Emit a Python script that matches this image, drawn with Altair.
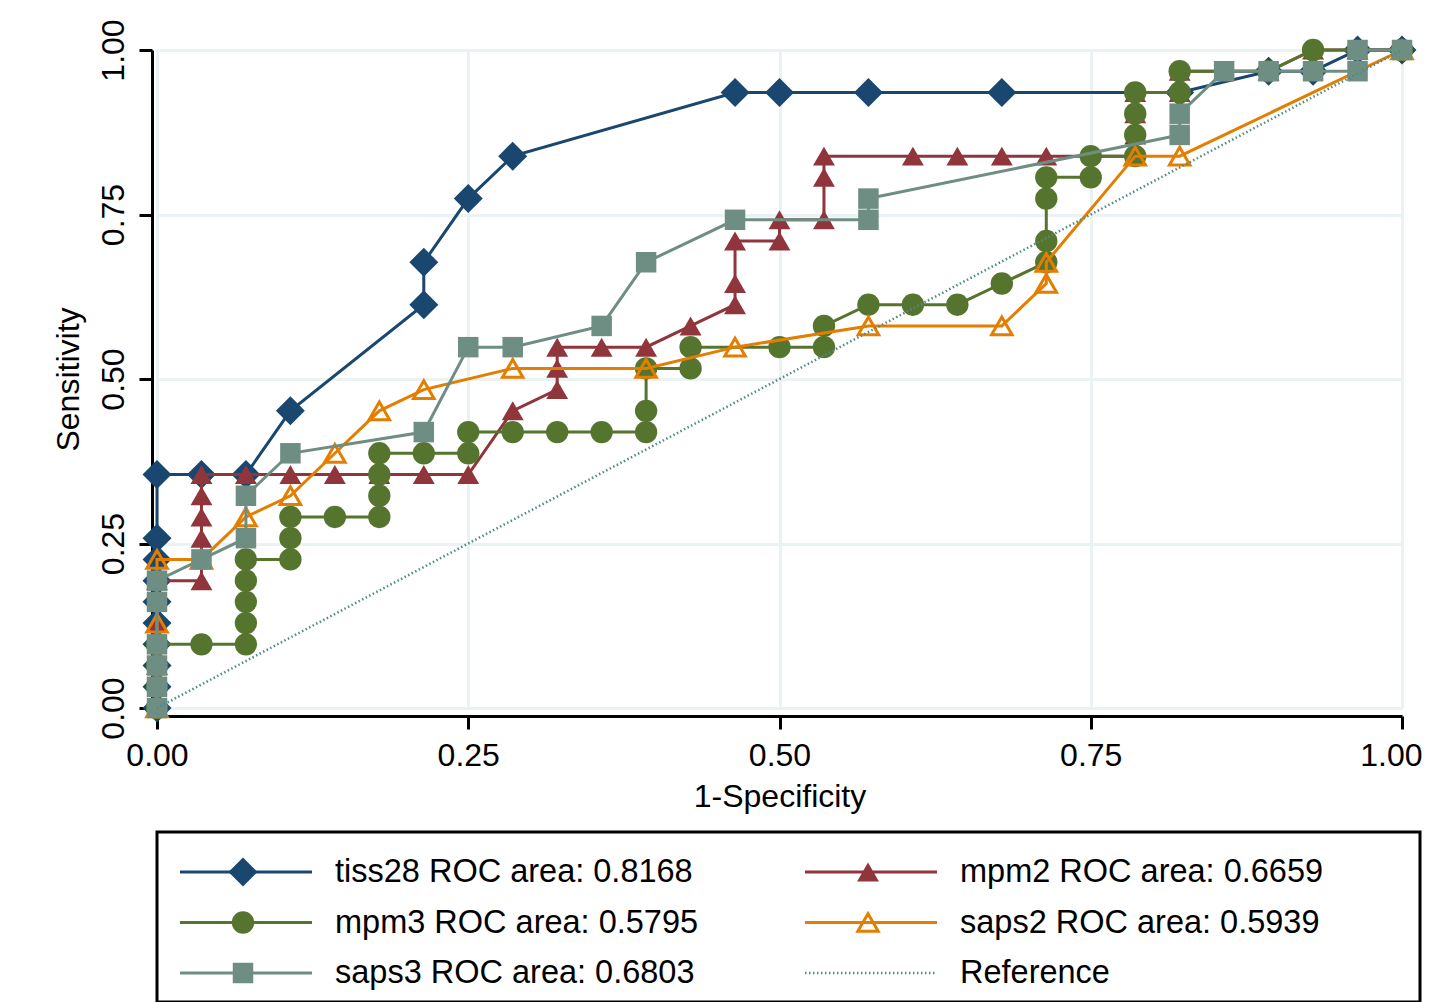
import altair as alt
import pandas as pd

FONT = "Liberation Sans"
FS = 32
LEG_FS = 32.5

# ROC steps: 28 controls (1-specificity) and 31 cases (sensitivity)
N_NEG = 28
N_POS = 31

series_keys = ["tiss28", "mpm2", "mpm3", "saps2", "saps3"]
legend_labels = [
    "tiss28 ROC area: 0.8168",
    "mpm2 ROC area: 0.6659",
    "mpm3 ROC area: 0.5795",
    "saps2 ROC area: 0.5939",
    "saps3 ROC area: 0.6803",
    "Reference",
]

tiss28_fp = [0, 0, 0, 0, 0, 0, 0, 0, 0, 0, 1, 2, 3, 6, 6, 7, 8, 13, 14, 16, 19, 23, 25, 26, 27, 28]
tiss28_tp = [0, 1, 2, 3, 4, 5, 6, 7, 8, 11, 11, 11, 14, 19, 21, 24, 26, 29, 29, 29, 29, 29, 30, 30, 31, 31]

mpm2_fp = [0, 0, 0, 0, 1, 1, 1, 1, 1, 1, 2, 3, 4, 5, 6, 7, 8, 9, 9, 9, 10, 11, 12, 13, 13, 13, 14, 14,
           15, 15, 15, 17, 18, 19, 20, 22, 22, 22, 22, 23, 23, 24, 25, 26, 27, 28]
mpm2_tp = [0, 2, 4, 6, 6, 7, 8, 9, 10, 11, 11, 11, 11, 11, 11, 11, 14, 15, 16, 17, 17, 17, 18, 19, 20, 22, 22, 23,
           23, 25, 26, 26, 26, 26, 26, 26, 27, 28, 29, 29, 30, 30, 30, 31, 31, 31]

mpm3_fp = [0, 0, 0, 0, 1, 2, 2, 2, 2, 2, 3, 3, 3, 4, 5, 5, 5, 5, 6, 7, 7, 8, 9, 10, 11, 11, 11, 12, 12, 14,
           15, 15, 16, 17, 18, 19, 20, 20, 20, 20, 21, 21, 22, 22, 22, 22, 23, 23, 25, 26, 28]
mpm3_tp = [0, 1, 2, 3, 3, 3, 4, 5, 6, 7, 7, 8, 9, 9, 9, 10, 11, 12, 12, 12, 13, 13, 13, 13, 13, 14, 16, 16, 17, 17,
           17, 18, 19, 19, 19, 20, 21, 22, 24, 25, 25, 26, 26, 27, 28, 29, 29, 30, 30, 31, 31]

saps2_fp = [0, 0, 0, 1, 2, 3, 4, 5, 6, 8, 11, 13, 16, 19, 20, 20, 22, 23, 28]
saps2_tp = [0, 4, 7, 7, 9, 10, 12, 14, 15, 16, 16, 17, 18, 18, 20, 21, 26, 26, 31]

saps3_fp = [0, 0, 0, 0, 0, 0, 1, 2, 2, 3, 6, 7, 8, 10, 11, 13, 16, 16, 23, 23, 24, 25, 26, 27, 27, 28]
saps3_tp = [0, 1, 2, 3, 5, 6, 7, 8, 10, 12, 13, 17, 17, 18, 21, 23, 23, 24, 27, 28, 30, 30, 30, 30, 31, 31]

ref_x = [0.0, 1.0]
ref_y = [0.0, 1.0]

colors = {"tiss28": "#1a476f", "mpm2": "#90353b", "mpm3": "#55752f",
          "saps2": "#e37e00", "saps3": "#6e8e84", "Reference": "#4f8a86"}
shapes = {"tiss28": "diamond", "mpm2": "triangle-up", "mpm3": "circle",
          "saps2": "triangle-up", "saps3": "square"}
sizes = {"tiss28": 841, "mpm2": 480, "mpm3": 500, "saps2": 420, "saps3": 420}
filled = {"tiss28": True, "mpm2": True, "mpm3": True, "saps2": False, "saps3": True}

fp_lists = {"tiss28": tiss28_fp, "mpm2": mpm2_fp, "mpm3": mpm3_fp, "saps2": saps2_fp, "saps3": saps3_fp}
tp_lists = {"tiss28": tiss28_tp, "mpm2": mpm2_tp, "mpm3": mpm3_tp, "saps2": saps2_tp, "saps3": saps3_tp}

PLOT_W = 1245
PLOT_H = 658

ticks = [0, 0.25, 0.5, 0.75, 1.0]

# keep the last x label inside the window
last_align = {"condition": {"test": "datum.value == 1", "value": "right"}, "value": "center"}
last_offset = {"condition": {"test": "datum.value == 1", "value": 20}, "value": 0}


def x_enc():
    return alt.X("x:Q", scale=alt.Scale(domain=[0, 1], nice=False, zero=False),
                 axis=alt.Axis(values=ticks, format=".2f", title="1-Specificity", offset=8,
                               labelPadding=11, titlePadding=10, labelFlush=False,
                               labelAlign=last_align, labelOffset=last_offset))


def y_enc():
    return alt.Y("y:Q", scale=alt.Scale(domain=[0, 1], nice=False, zero=False),
                 axis=alt.Axis(values=ticks, format=".2f", title="Sensitivity", offset=5,
                               labelAngle=270, labelAlign="center", labelBaseline="bottom",
                               labelPadding=9, titlePadding=12, labelFlush=False))


layers = []
for k in series_keys:
    df = pd.DataFrame({"x": [v / N_NEG for v in fp_lists[k]],
                       "y": [v / N_POS for v in tp_lists[k]],
                       "i": list(range(len(fp_lists[k])))})
    base = alt.Chart(df)
    line = base.mark_line(color=colors[k], strokeWidth=3).encode(x=x_enc(), y=y_enc(), order="i:Q")
    if filled[k]:
        pts = base.mark_point(shape=shapes[k], filled=True, size=sizes[k], color=colors[k], opacity=1)
    else:
        pts = base.mark_point(shape=shapes[k], filled=False, size=sizes[k], color=colors[k],
                              strokeWidth=3, opacity=1)
    pts = pts.encode(x=x_enc(), y=y_enc())
    layers += [line, pts]

ref_df = pd.DataFrame({"x": ref_x, "y": ref_y})
ref = alt.Chart(ref_df).mark_line(color=colors["Reference"], strokeWidth=2.5,
                                  strokeDash=[1.5, 2.5]).encode(x=x_enc(), y=y_enc())
layers.append(ref)

main = alt.layer(*layers).properties(width=PLOT_W, height=PLOT_H)

# ---- legend (two columns, three rows) ----
LEG_W = 1263
LEG_H = 170
COL_STEP = 625
ROW_STEP = 50.5
ROW0 = 40

leg_keys = ["tiss28", "mpm2", "mpm3", "saps2", "saps3", "Reference"]
leg_df = pd.DataFrame({"key": leg_keys, "label": legend_labels,
                       "col": [0, 1, 0, 1, 0, 1], "row": [0, 0, 1, 1, 2, 2]})

lx = alt.X("col:Q", scale=alt.Scale(domain=[0, LEG_W / COL_STEP], nice=False, zero=False), axis=None)
ly = alt.Y("row:Q", scale=alt.Scale(domain=[(LEG_H - ROW0) / ROW_STEP, -ROW0 / ROW_STEP], nice=False, zero=False),
           axis=None)
ckeys = list(colors.keys())
color_scale = alt.Scale(domain=ckeys, range=[colors[c] for c in ckeys])
lbase = alt.Chart(leg_df)

leg_layers = []
leg_layers.append(lbase.transform_filter(alt.datum.key != "Reference").mark_rule(
    strokeWidth=3, xOffset=23, x2Offset=155).encode(
    x=lx, x2="col:Q", y=ly, color=alt.Color("key:N", scale=color_scale, legend=None)))
leg_layers.append(lbase.transform_filter(alt.datum.key == "Reference").mark_rule(
    strokeWidth=2.5, strokeDash=[1.5, 2.5], xOffset=23, x2Offset=155).encode(
    x=lx, x2="col:Q", y=ly, color=alt.Color("key:N", scale=color_scale, legend=None)))
for k in series_keys:
    m = lbase.transform_filter(alt.datum.key == k)
    if filled[k]:
        mk = m.mark_point(shape=shapes[k], filled=True, size=sizes[k], xOffset=86, opacity=1)
    else:
        mk = m.mark_point(shape=shapes[k], filled=False, size=sizes[k], xOffset=86, strokeWidth=3, opacity=1)
    leg_layers.append(mk.encode(x=lx, y=ly, color=alt.Color("key:N", scale=color_scale, legend=None)))
leg_layers.append(lbase.mark_text(align="left", baseline="middle", xOffset=178, fontSize=LEG_FS,
                                  font=FONT, color="black").encode(x=lx, y=ly, text="label:N"))

legend = alt.layer(*leg_layers).properties(
    width=LEG_W, height=LEG_H,
    view=alt.ViewBackground(stroke="black", strokeWidth=3))

# fixed-size canvas (1415 x 994) so the page keeps the window width
chart = alt.vconcat(main, legend, spacing=18).properties(
    autosize=alt.AutoSizeParams(type="none"),
    padding={"left": 149, "top": 42, "right": 1266, "bottom": 952}
).configure_view(stroke=None).configure_axis(
    labelFont=FONT, titleFont=FONT, labelFontSize=FS, titleFontSize=FS,
    labelColor="black", titleColor="black", titleFontWeight="normal",
    domainColor="black", domainWidth=3, tickColor="black", tickWidth=3, tickSize=13,
    gridColor="#eaf2f3", gridWidth=3, gridOpacity=1, grid=True
)

chart.save("out.html", embed_options={"renderer": "svg", "actions": False})
